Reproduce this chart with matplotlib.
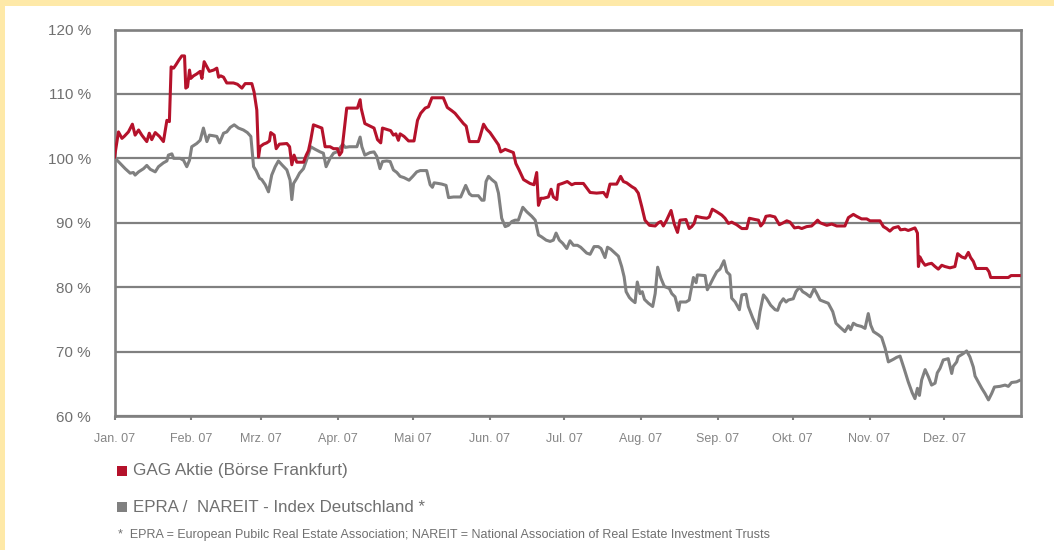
import numpy as np
import matplotlib.pyplot as plt
from matplotlib.patches import Rectangle

# day of year 2007 (0 = 1. Jan.) and index value in %
gag_days = [0, 1.6, 3.0, 3.9, 5.6, 7.2, 8.3, 9.7, 11.0, 13.0, 14.0, 15.0, 16.4, 18.1, 19.7,
            21.1, 22.1, 22.8, 23.8, 24.7, 26.0, 27.1, 28.2, 28.7, 29.4, 30.2, 30.7, 31.8,
            33.1, 34.5, 35.2, 36.1, 37.2, 38.2, 39.9, 41.2, 41.9, 42.8, 43.9, 45.2, 47.9,
            49.5, 51.3, 52.6, 55.3, 56.2, 57.3, 58.0, 58.6, 60.0, 61.3, 62.4, 62.9, 64.3,
            65.1, 66.4, 69.4, 70.5, 71.4, 72.3, 73.4, 76.1, 77.2, 78.1, 79.0, 80.1, 83.5,
            84.8, 86.8, 88.2, 89.8, 90.6, 91.5, 93.5, 97.8, 98.9, 99.3, 100.8, 102.9, 104.5,
            105.9, 107.2, 107.9, 109.6, 111.2, 112.3, 113.3, 114.3, 115.0, 116.6, 118.4,
            120.6, 122.0, 123.3, 125.1, 126.4, 127.8, 132.4, 134.0, 135.8, 137.1, 140.5,
            141.6, 142.9, 146.5, 147.2, 148.6, 149.9, 151.2, 153.2, 154.6, 155.5, 157.3,
            158.6, 160.6, 161.6, 162.9, 164.7, 167.3, 168.9, 170.0, 170.7, 171.7, 172.7,
            174.7, 175.8, 176.7, 178.1, 178.7, 180.3, 182.3, 184.1, 185.4, 188.8, 191.5,
            194.1, 196.9, 198.2, 199.5, 202.2, 203.8, 204.9, 206.2, 208.3, 209.6, 210.9,
            212.3, 213.6, 215.4, 217.7, 219.0, 220.0, 221.0, 222.3, 224.1, 225.4, 226.7,
            227.7, 230.1, 231.4, 232.4, 233.4, 234.2, 236.5, 238.5, 239.5, 240.7, 242.5,
            244.5, 245.8, 247.2, 248.5, 250.5, 252.6, 254.6, 255.6, 257.9, 259.3, 260.2,
            261.3, 262.3, 263.9, 265.9, 267.7, 269.3, 270.7, 272.0, 273.8, 275.4, 276.7,
            278.7, 280.7, 282.1, 283.1, 284.1, 286.8, 288.8, 290.8, 294.1, 295.5, 297.5,
            298.8, 300.8, 302.9, 304.2, 308.2, 309.6, 310.9, 312.2, 313.6, 315.6, 316.5,
            318.3, 319.6, 321.0, 322.3, 323.3, 323.7, 324.3, 325.4, 326.4, 327.7, 329.0,
            330.4, 331.7, 333.1, 334.4, 336.4, 338.4, 339.5, 341.1, 342.5, 343.8, 344.7,
            345.8, 346.9, 349.2, 351.2, 352.1, 352.8, 356.5, 359.9, 361.0, 364.3]
gag_values = [100.2, 104.1, 103.1, 103.4, 104.1, 105.3, 103.6, 104.4, 103.6, 102.6, 103.9,
              102.9, 104.0, 103.4, 102.6, 105.9, 105.7, 114.2, 114.0, 114.5, 115.3, 115.9,
              115.9, 110.9, 111.1, 113.7, 112.4, 112.8, 113.1, 113.5, 112.4, 115.0, 114.2,
              113.5, 113.7, 114.0, 112.6, 112.8, 112.6, 111.7, 111.7, 111.5, 110.9, 111.6,
              111.6, 110.3, 107.5, 100.2, 101.8, 102.2, 102.4, 102.7, 104.0, 103.6, 101.5,
              102.2, 102.3, 101.8, 99.0, 100.5, 99.4, 99.4, 100.5, 101.2, 102.8, 105.2,
              104.7, 101.8, 101.8, 101.5, 101.5, 100.5, 101.0, 107.8, 107.8, 109.1, 107.8,
              105.4, 105.0, 104.7, 102.9, 102.4, 104.7, 104.5, 104.3, 103.6, 103.8, 102.8,
              103.8, 103.4, 102.7, 102.7, 105.9, 107.0, 107.8, 108.0, 109.4, 109.4, 107.9,
              107.4, 107.0, 105.4, 105.0, 102.6, 102.6, 103.4, 105.3, 104.5, 104.0, 102.9,
              102.1, 101.0, 101.4, 101.2, 100.9, 99.2, 98.2, 96.7, 96.1, 95.9, 97.8, 92.7,
              93.8, 93.8, 94.0, 95.2, 94.0, 93.6, 95.9, 96.1, 96.4, 95.9, 96.1, 96.1, 94.7,
              94.6, 94.7, 94.0, 96.0, 96.0, 97.2, 96.4, 96.2, 95.6, 95.3, 94.6, 92.5, 90.4,
              89.6, 89.5, 90.0, 90.2, 89.5, 90.4, 91.9, 89.8, 88.5, 90.4, 90.5, 89.1, 89.4,
              89.9, 91.0, 90.8, 90.7, 90.9, 92.1, 91.7, 91.2, 90.7, 89.9, 90.1, 89.7, 89.1,
              89.1, 90.7, 90.5, 90.4, 89.5, 90.0, 91.0, 91.1, 90.9, 89.7, 90.0, 90.3, 90.1,
              89.2, 89.3, 89.1, 89.4, 89.5, 90.0, 90.4, 90.0, 89.6, 89.8, 89.5, 89.5, 90.8,
              91.3, 91.0, 90.6, 90.6, 90.3, 90.3, 89.4, 89.1, 88.7, 89.2, 89.4, 88.9, 89.0,
              88.8, 89.0, 89.2, 88.4, 83.2, 84.7, 83.9, 83.4, 83.6, 83.7, 83.2, 82.8, 83.4,
              83.2, 83.0, 83.2, 85.2, 84.7, 84.5, 85.4, 84.6, 84.0, 82.9, 82.9, 82.9, 82.4,
              81.5, 81.5, 81.5, 81.8, 81.8]

epra_days = [0.3, 2.3, 4.3, 6.3, 7.6, 8.3, 9.7, 11.7, 13.0, 14.4, 16.4, 17.7, 19.7, 21.1,
             21.7, 23.1, 23.8, 26.4, 27.8, 29.1, 30.2, 31.1, 33.1, 34.5, 35.8, 37.2, 38.2,
             39.9, 41.2, 42.3, 43.9, 45.2, 46.6, 48.2, 49.9, 51.9, 53.5, 54.9, 56.0, 57.0,
             58.4, 59.3, 60.7, 62.0, 63.3, 64.7, 66.0, 67.4, 69.4, 70.7, 71.4, 72.1, 73.4,
             74.5, 76.1, 77.4, 79.0, 80.8, 82.8, 84.1, 85.2, 86.8, 88.2, 89.5, 90.6, 91.9,
             92.9, 94.6, 97.6, 98.9, 99.6, 100.8, 102.9, 104.5, 105.6, 106.9, 107.9, 109.6,
             111.0, 112.3, 113.7, 115.0, 116.6, 118.6, 120.1, 121.7, 123.1, 125.7, 127.1,
             128.0, 128.7, 130.4, 131.8, 133.5, 134.5, 136.5, 139.4, 141.4, 142.9, 143.9,
             146.5, 147.9, 148.8, 149.6, 150.6, 151.9, 153.5, 154.6, 155.9, 157.3, 158.6,
             160.0, 161.3, 162.6, 164.4, 166.0, 168.0, 169.4, 170.7, 172.0, 173.8, 175.4,
             176.7, 177.8, 179.1, 180.5, 182.1, 183.4, 184.8, 186.4, 187.7, 189.0, 190.1,
             191.5, 193.1, 194.8, 195.9, 197.5, 198.5, 199.8, 201.5, 202.9, 204.2, 205.2,
             206.0, 207.3, 208.3, 209.6, 210.5, 211.6, 212.5, 213.4, 215.0, 216.7, 217.7,
             218.7, 220.0, 221.4, 223.4, 224.4, 225.7, 227.1, 227.7, 230.1, 231.4, 232.4,
             233.1, 234.2, 234.7, 237.8, 238.7, 239.8, 241.1, 242.5, 243.8, 245.4, 246.5,
             247.8, 248.5, 249.9, 251.6, 252.6, 254.3, 255.2, 257.0, 258.9, 259.9, 261.3,
             262.6, 264.2, 266.0, 267.0, 268.0, 269.3, 270.4, 271.3, 273.3, 274.4, 275.8,
             277.1, 278.4, 280.1, 281.7, 282.8, 284.1, 286.1, 287.4, 289.2, 290.5, 292.1,
             294.1, 295.5, 296.4, 297.5, 298.8, 300.8, 302.2, 303.5, 304.5, 305.6, 307.6,
             308.9, 310.3, 311.6, 313.6, 314.9, 316.3, 317.9, 319.6, 321.2, 322.3, 323.3,
             324.1, 325.0, 326.4, 327.7, 329.0, 330.4, 331.3, 332.4, 333.7, 335.7, 337.1,
             337.7, 339.1, 339.7, 341.8, 343.1, 344.4, 345.8, 346.5, 347.8, 349.2, 350.5,
             351.9, 353.2, 354.3, 356.5, 358.6, 359.9, 361.2, 363.2, 364.3]
epra_values = [100.0, 99.2, 98.4, 97.7, 97.8, 97.4, 97.9, 98.4, 98.9, 98.3, 97.9, 98.7, 99.3,
               99.6, 100.5, 100.7, 100.0, 100.0, 99.7, 98.7, 99.7, 101.8, 102.3, 102.8, 104.7,
               102.6, 103.6, 103.5, 103.4, 102.4, 103.9, 104.1, 104.8, 105.2, 104.7, 104.4,
               104.0, 103.4, 98.7, 98.1, 96.9, 96.7, 95.9, 94.8, 97.4, 98.7, 99.6, 99.0, 98.2,
               96.6, 93.6, 96.1, 96.9, 97.7, 98.4, 99.8, 101.8, 101.4, 101.0, 100.8, 98.7,
               100.0, 100.8, 101.0, 101.5, 102.2, 101.7, 101.8, 101.8, 103.3, 101.8, 100.5,
               100.9, 101.0, 100.3, 98.4, 99.5, 99.6, 99.5, 98.2, 97.8, 97.2, 97.0, 96.6, 97.2,
               97.9, 98.1, 98.1, 95.9, 95.5, 96.2, 96.1, 96.0, 95.8, 93.9, 94.0, 94.0, 95.8,
               94.5, 94.2, 94.2, 93.5, 93.5, 96.4, 97.2, 96.7, 96.2, 94.6, 90.7, 89.4, 89.6,
               90.2, 90.4, 90.4, 92.4, 91.7, 91.0, 90.4, 88.1, 87.8, 87.3, 87.1, 87.3, 88.4,
               87.3, 86.8, 86.0, 87.2, 86.5, 86.5, 86.2, 85.7, 85.3, 85.1, 86.3, 86.3, 86.0,
               84.6, 86.2, 85.9, 85.3, 84.8, 83.2, 81.6, 79.3, 78.4, 78.0, 77.6, 80.8, 79.0,
               79.3, 78.1, 77.5, 77.0, 79.0, 83.1, 81.4, 80.1, 79.8, 79.0, 78.5, 76.4, 77.7,
               77.7, 78.0, 80.1, 81.5, 80.7, 81.9, 81.8, 79.6, 80.4, 81.4, 82.4, 82.8, 84.1,
               82.4, 81.9, 78.3, 77.7, 76.5, 78.8, 78.9, 77.0, 75.2, 73.6, 76.2, 78.8, 78.2,
               77.2, 76.5, 76.4, 77.5, 78.2, 77.7, 78.0, 78.2, 79.3, 80.0, 79.3, 79.0, 78.5,
               79.8, 79.0, 78.0, 77.7, 77.5, 76.2, 74.4, 73.8, 73.1, 74.0, 73.4, 74.4, 74.1,
               73.9, 73.6, 75.9, 74.1, 73.1, 72.6, 72.2, 70.5, 68.4, 68.8, 69.1, 69.3, 67.4,
               65.3, 63.6, 62.7, 64.3, 63.2, 65.6, 67.2, 66.1, 64.8, 65.1, 66.7, 67.4, 68.7,
               68.9, 66.6, 67.7, 68.4, 69.2, 69.7, 70.1, 69.2, 67.6, 66.2, 65.3, 64.3, 63.5,
               62.5, 63.5, 64.5, 64.6, 64.8, 64.6, 65.2, 65.3, 65.5]

month_starts = [0, 31, 59, 90, 120, 151, 181, 212, 243, 273, 304, 334]
month_labels = ['Jan. 07', 'Feb. 07', 'Mrz. 07', 'Apr. 07', 'Mai 07', 'Jun. 07',
                'Jul. 07', 'Aug. 07', 'Sep. 07', 'Okt. 07', 'Nov. 07', 'Dez. 07']
y_ticks = [60, 70, 80, 90, 100, 110, 120]

red = '#B5122B'
grey = '#808080'
textgrey = '#707070'

plt.rcParams['font.family'] = ['Liberation Sans', 'DejaVu Sans']

W, H = 1054, 550
fig = plt.figure(figsize=(W / 100, H / 100), dpi=100)
fig.patch.set_facecolor('#FEE9A8')  # yellow frame
fig.add_artist(Rectangle((5 / W, 0), 1, (H - 6) / H, transform=fig.transFigure,
                         facecolor='white', edgecolor='none', zorder=-1))

ax = fig.add_axes([114.5 / W, (H - 416) / H, (1021 - 114.5) / W, (416 - 29.5) / H])
ax.plot(epra_days, epra_values, color=grey, lw=2.2, zorder=3)
ax.plot(gag_days, gag_values, color=red, lw=2.2, zorder=4)

ax.set_xlim(0, 365)
ax.set_ylim(60, 120)
ax.set_yticks(y_ticks)
ax.set_yticklabels([str(v) + ' %' for v in y_ticks])
ax.set_xticks(month_starts)
ax.set_xticklabels(month_labels)
for lbl in ax.get_xticklabels():
    lbl.set_va('baseline')  # same baseline for all month names
ax.yaxis.grid(True, color=grey, lw=1.6)
ax.set_axisbelow(True)
for s in ax.spines.values():
    s.set_color(grey)
    s.set_linewidth(1.9)
ax.tick_params(axis='y', length=0, pad=17, labelsize=11, labelcolor=textgrey)
ax.tick_params(axis='x', length=3, width=1.5, color=grey, pad=15.5, labelsize=9,
               labelcolor='#858585')

# legend drawn by hand
fig.add_artist(Rectangle((117 / W, 1 - 476 / H), 10 / W, 10 / H, transform=fig.transFigure,
                         facecolor=red, edgecolor='none'))
fig.text(133 / W, 1 - 471 / H, 'GAG Aktie (Börse Frankfurt)', va='center', fontsize=12.3,
         color=textgrey)
fig.add_artist(Rectangle((117 / W, 1 - 512 / H), 10 / W, 10 / H, transform=fig.transFigure,
                         facecolor=grey, edgecolor='none'))
fig.text(133 / W, 1 - 507 / H, 'EPRA /  NAREIT - Index Deutschland *', va='center',
         fontsize=12.2, color=textgrey)
fig.text(118 / W, 1 - 535 / H, '*  EPRA = European Pubilc Real Estate Association; '
         'NAREIT = National Association of Real Estate Investment Trusts',
         va='center', fontsize=9, color=textgrey)

fig.savefig('out.png', dpi=100, facecolor=fig.get_facecolor())
